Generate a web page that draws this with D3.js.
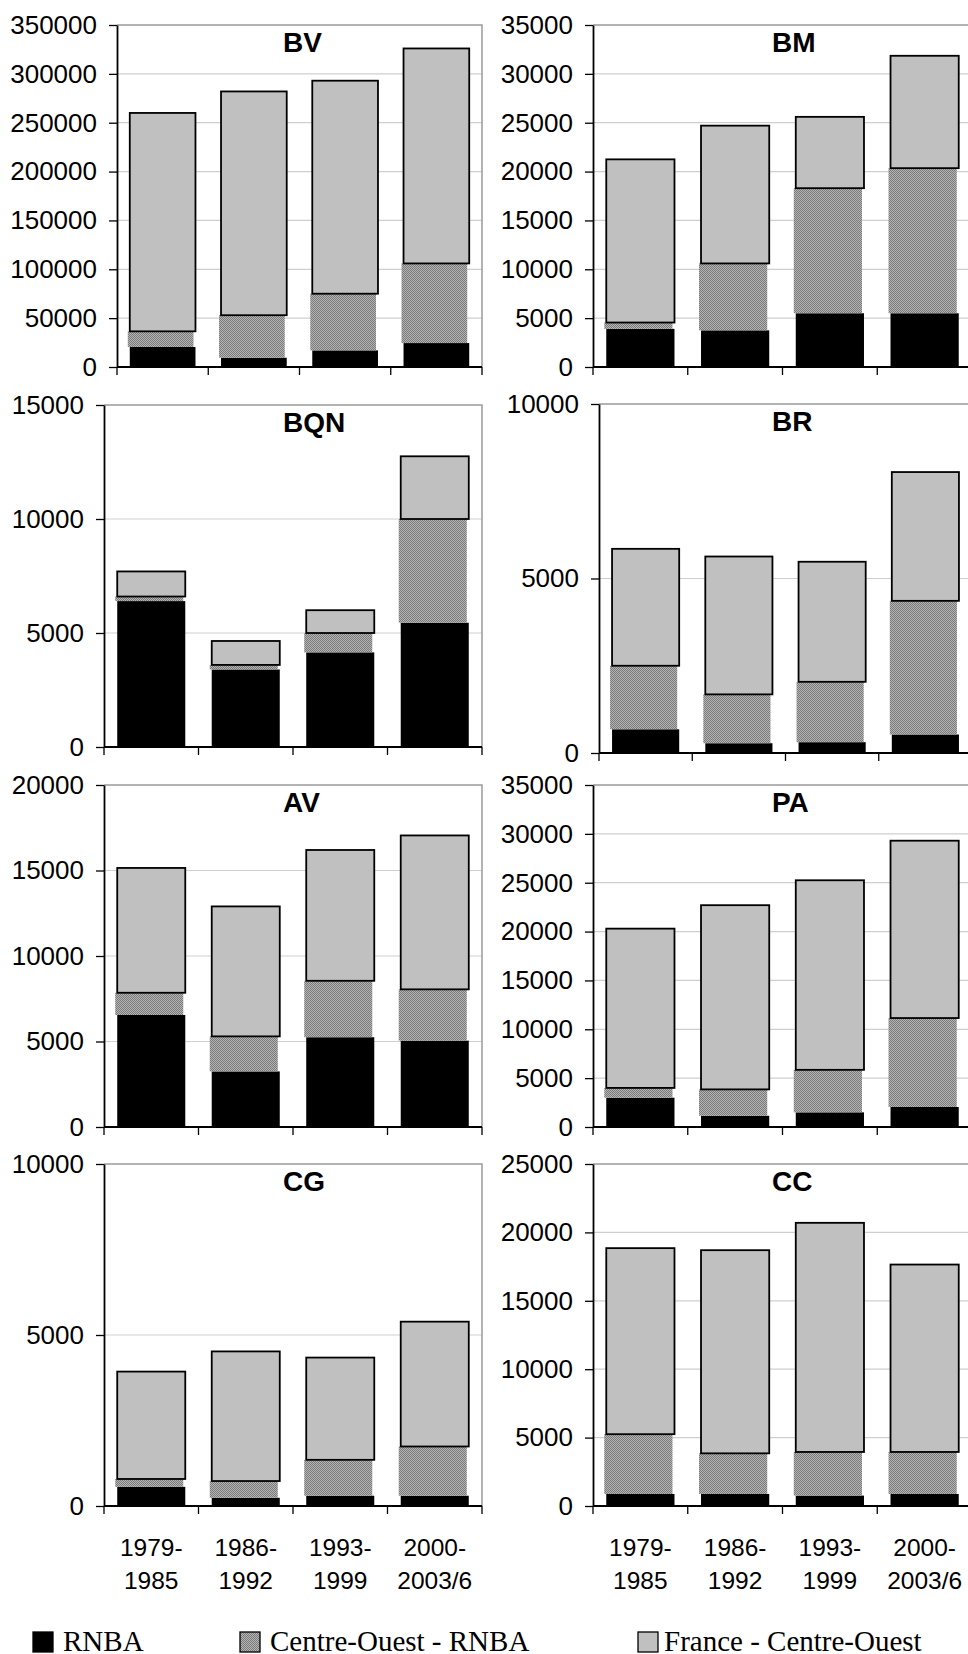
<!DOCTYPE html>
<html><head><meta charset="utf-8">
<script src="https://cdn.jsdelivr.net/npm/d3@7"></script>
<style>body{margin:0;background:#fff} svg{display:block}</style>
</head><body>
<svg id="c" width="968" height="1654"></svg>
<script>
// ---- data ----
const periods = ["1979-1985","1986-1992","1993-1999","2000-2003/6"];
const periodLines = [["1979-","1985"],["1986-","1992"],["1993-","1999"],["2000-","2003/6"]];
const regions = ["BV","BM","BQN","BR","AV","PA","CG","CC"];
const seriesNames = ["RNBA","Centre-Ouest - RNBA","France - Centre-Ouest"];
const rnba = [
  [20500, 9500, 17000, 24500],
  [3900, 3750, 5500, 5500],
  [6400, 3400, 4150, 5450],
  [680, 280, 310, 530],
  [6550, 3250, 5250, 5050],
  [3000, 1150, 1500, 2050],
  [560, 240, 300, 300],
  [880, 880, 760, 880]
];
const centreOuestMinusRnba = [
  [16000, 43500, 58000, 81500],
  [650, 6850, 12800, 14850],
  [200, 200, 850, 4550],
  [1820, 1400, 1730, 3830],
  [1300, 2050, 3300, 3000],
  [1000, 2700, 4350, 9100],
  [230, 490, 1050, 1440],
  [4370, 2970, 3190, 3070]
];
const franceMinusCentreOuest = [
  [223500, 229000, 218000, 220000],
  [16700, 14100, 7300, 11500],
  [1100, 1050, 1000, 2750],
  [3350, 3950, 3440, 3690],
  [7300, 7600, 7650, 9000],
  [16300, 18850, 19400, 18150],
  [3140, 3790, 2990, 3650],
  [13600, 14850, 16750, 13700]
];
const yMax = [350000, 35000, 15000, 10000, 20000, 35000, 10000, 25000];
const yStep = [50000, 5000, 5000, 5000, 5000, 5000, 5000, 5000];

// ---- layout ----
const layout = [
  {x0:117, x1:482, y0:25,   y1:367,  tx:283},
  {x0:593, x1:972, y0:25,   y1:367,  tx:772},
  {x0:104, x1:482, y0:405,  y1:747,  tx:283},
  {x0:599, x1:972, y0:404,  y1:753,  tx:772},
  {x0:104, x1:482, y0:785,  y1:1127, tx:283},
  {x0:593, x1:972, y0:785,  y1:1127, tx:772},
  {x0:104, x1:482, y0:1164, y1:1506, tx:283},
  {x0:593, x1:972, y0:1164, y1:1506, tx:772}
];
const SANS = "'Liberation Sans', Arial, Helvetica, sans-serif";
const SERIF = "'Liberation Serif', 'Times New Roman', serif";
const colors = ["#000000", "url(#dots)", "#c0c0c0"];

const svg = d3.select("#c");
const defs = svg.append("defs");
const pat = defs.append("pattern").attr("id","dots").attr("width",2).attr("height",2)
  .attr("patternUnits","userSpaceOnUse");
pat.append("rect").attr("width",2).attr("height",2).attr("fill","#b4b4b4");
pat.append("rect").attr("x",0).attr("y",0).attr("width",1).attr("height",1).attr("fill","#7a7a7a");
pat.append("rect").attr("x",1).attr("y",1).attr("width",1).attr("height",1).attr("fill","#7a7a7a");

regions.forEach((name, i) => {
  const L = layout[i];
  const g = svg.append("g");
  const x = d3.scaleBand().domain(periods).range([L.x0, L.x1]).paddingInner(0.28).paddingOuter(0.14);
  const y = d3.scaleLinear().domain([0, yMax[i]]).range([L.y1, L.y0]);
  const ticks = d3.range(0, yMax[i] + 1, yStep[i]);

  // gridlines
  g.append("g").selectAll("line").data(ticks.filter(t => t > 0 && t < yMax[i])).join("line")
    .attr("x1", L.x0).attr("x2", L.x1).attr("y1", d => y(d)).attr("y2", d => y(d))
    .attr("stroke", "#cfcfcf").attr("stroke-width", 1.2);
  // frame top & right
  g.append("path").attr("d", `M${L.x0},${y(yMax[i])}H${L.x1}V${L.y1}`)
    .attr("fill","none").attr("stroke","#9a9a9a").attr("stroke-width",1.5);

  // stacked bars
  const rows = periods.map((p, j) => ({period: p, s0: rnba[i][j], s1: centreOuestMinusRnba[i][j], s2: franceMinusCentreOuest[i][j]}));
  const stacked = d3.stack().keys(["s0","s1","s2"])(rows);
  stacked.forEach((layer, k) => {
    const shift = k === 1 ? -2 : 0;
    g.append("g").selectAll("rect").data(layer).join("rect")
      .attr("x", d => x(d.data.period) + shift)
      .attr("width", x.bandwidth())
      .attr("y", d => y(d[1]))
      .attr("height", d => y(d[0]) - y(d[1]))
      .attr("fill", colors[k])
      .attr("stroke", k === 2 ? "#000" : "none")
      .attr("stroke-width", 1.8);
  });

  // y axis
  const ya = g.append("g").attr("transform", `translate(${L.x0},0)`)
    .call(d3.axisLeft(y).tickValues(ticks).tickSize(8).tickSizeOuter(0).tickPadding(12).tickFormat(d3.format("d")));
  ya.select(".domain").attr("stroke","#000").attr("stroke-width",1.8);
  ya.selectAll(".tick line").attr("stroke","#000").attr("stroke-width",1.3);
  ya.selectAll(".tick text").attr("font-family", SANS).attr("font-size", 26).attr("fill","#000");

  // x axis: baseline + ticks at band boundaries
  const bounds = d3.range(periods.length + 1).map(j => L.x0 + j * x.step());
  g.append("line").attr("x1", L.x0).attr("x2", L.x1).attr("y1", L.y1).attr("y2", L.y1)
    .attr("stroke","#000").attr("stroke-width",1.8);
  g.append("g").selectAll("line").data(bounds).join("line")
    .attr("x1", d => d).attr("x2", d => d).attr("y1", L.y1).attr("y2", L.y1 + 8)
    .attr("stroke","#000").attr("stroke-width",1.3);

  // title
  g.append("text").attr("x", L.tx).attr("y", L.y0 + 27).text(name)
    .attr("font-family", SANS).attr("font-weight","bold").attr("font-size", 28).attr("fill","#000");

  // category labels on bottom row (two lines each)
  if (i >= 6) {
    [0, 1].forEach(m => {
      g.append("g").selectAll("text").data(periods).join("text")
        .attr("text-anchor","middle").attr("font-family", SANS).attr("font-size", 24.5).attr("fill","#000")
        .attr("x", d => x(d) + x.bandwidth() / 2)
        .attr("y", L.y1 + 50 + m * 33)
        .text((d, j) => periodLines[j][m]);
    });
  }
});

// legend
const legendPos = [{sx:33, tx:63}, {sx:240, tx:270}, {sx:638, tx:664}];
const lg = svg.append("g");
seriesNames.forEach((s, k) => {
  const P = legendPos[k];
  lg.append("rect").attr("x", P.sx).attr("y", 1632).attr("width", 20).attr("height", 20)
    .attr("fill", colors[k]).attr("stroke", "#000").attr("stroke-width", 1.3);
  lg.append("text").attr("x", P.tx).attr("y", 1651).text(s)
    .attr("font-family", SERIF).attr("font-size", 29).attr("fill","#000");
});
</script>
</body></html>
